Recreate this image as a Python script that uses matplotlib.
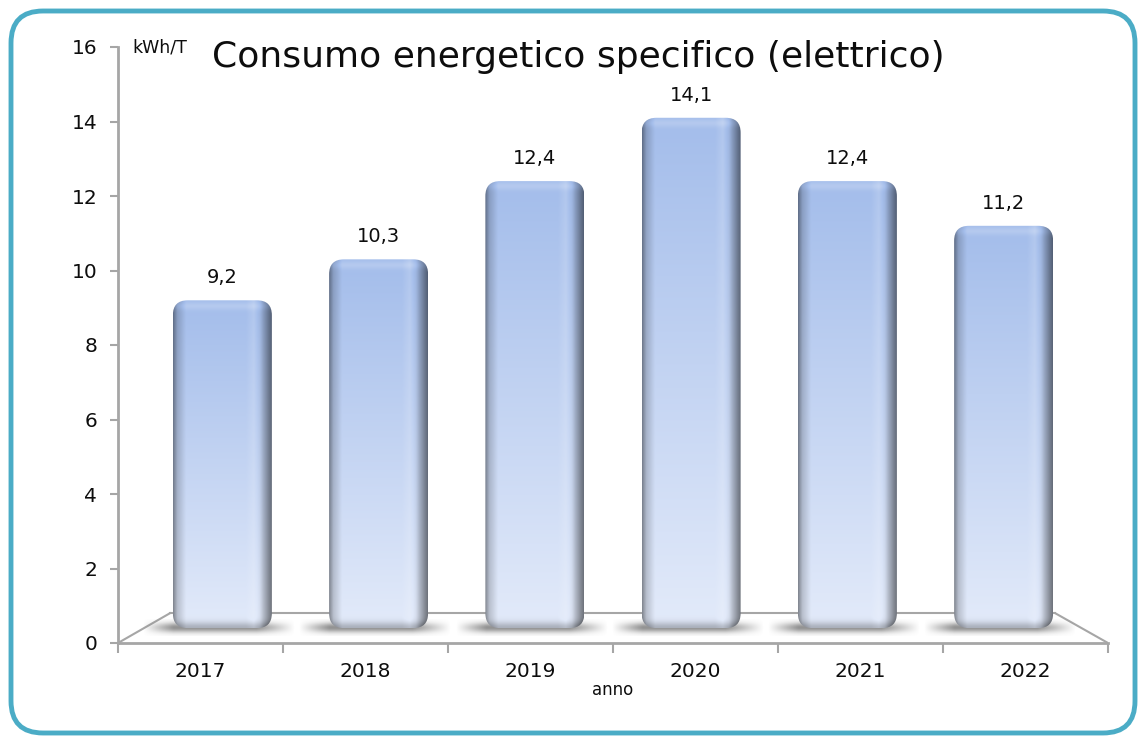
import numpy as np
import matplotlib
matplotlib.use("Agg")
import matplotlib.pyplot as plt
from matplotlib.patches import FancyBboxPatch

# dati
anni = ["2017", "2018", "2019", "2020", "2021", "2022"]
valori = [9.2, 10.3, 12.4, 14.1, 12.4, 11.2]
etichette = ["9,2", "10,3", "12,4", "14,1", "12,4", "11,2"]
y_ticks = [0, 2, 4, 6, 8, 10, 12, 14, 16]

plt.rcParams['font.family'] = ['DejaVu Sans']
nero = "#0D0D0D"

W, H = 1146, 742
fig = plt.figure(figsize=(W / 100, H / 100), dpi=100)

# sfondo con cornice arrotondata (coordinate in pixel)
bg = fig.add_axes([0, 0, 1, 1], zorder=0)
bg.set_xlim(0, W)
bg.set_ylim(H, 0)
bg.axis("off")
cornice = FancyBboxPatch((11, 11), W - 22, H - 20,
                         boxstyle="round,pad=0,rounding_size=32",
                         facecolor="white", edgecolor="#4BACC6", linewidth=3.5)
bg.add_patch(cornice)

ax = fig.add_axes([118 / W, 99 / H, 990 / W, 596 / H], zorder=1)
ax.set_facecolor("none")
ax.set_xlim(-0.5, 5.5)
ax.set_ylim(0, 16)

# pixel per unita
px_x = 990 / 6.0
px_y = 596 / 16.0
aspetto = px_x / px_y

grigio = "#A6A6A6"
# pavimento prospettico
fondo = 0.8
ax.plot([-0.5, -0.185], [0, fondo], color=grigio, lw=1.5, zorder=2)
ax.plot([5.5, 5.18], [0, fondo], color=grigio, lw=1.5, zorder=2)
ax.plot([-0.185, 5.18], [fondo, fondo], color=grigio, lw=1.5, zorder=2)

def colore_barra(alt_px, nx=120):
    ny = int(alt_px)
    u = np.linspace(0, 1, nx)
    yy = np.arange(ny)[:, None] + 0.5  # pixel dal basso
    v = yy / ny
    basso = np.array([0.89, 0.92, 0.98])
    alto = np.array([0.64, 0.74, 0.92])
    base = basso + (alto - basso) * v[..., None] * np.ones((1, nx, 1))
    f = np.interp(u, [0, 0.04, 0.13, 0.74, 0.82, 0.88, 0.94, 1.0],
                  [0.58, 0.82, 1.0, 1.0, 1.05, 0.96, 0.72, 0.50])
    f = f[None, :, None] * np.ones((ny, 1, 1))
    # bordo superiore chiaro e base scura
    dall_alto = ny - yy
    f = f + 0.06 * np.exp(-((dall_alto - 6) / 4) ** 2)[..., None]
    f = f - 0.25 * np.exp(-(yy / 6) ** 2)[..., None]
    img = np.where(f >= 1, base + (1 - base) * (f - 1) * 3, base * f)
    return np.clip(img, 0, 1)

larg = 0.6
base_barra = 0.4
for i, val in enumerate(valori):
    cx = i + (2.5 - i) * 0.053
    x0 = cx - larg / 2
    # ombra sul pavimento
    sx = np.linspace(0, 1, 200)
    sy = np.linspace(-1, 1, 40)[:, None]
    alfa = np.exp(-(sy / 0.6) ** 2) * np.clip(np.minimum(sx / 0.2, (1 - sx) / 0.25), 0, 1)
    ombra = np.zeros((40, 200, 4))
    ombra[..., :3] = 0.5
    ombra[..., 3] = alfa * 0.85
    ax.imshow(ombra, extent=(x0 - 0.18, x0 + larg + 0.14, 0.18, 0.62),
              aspect="auto", origin="lower", zorder=3, interpolation="bilinear")
    patch = FancyBboxPatch((x0, base_barra), larg, val - base_barra,
                           boxstyle="round,pad=0,rounding_size=0.09",
                           mutation_aspect=aspetto,
                           facecolor="none", edgecolor="none")
    ax.add_patch(patch)
    tex = colore_barra((val - base_barra) * px_y)
    im = ax.imshow(tex, extent=(x0, x0 + larg, base_barra, val),
                   aspect="auto", origin="lower", zorder=4, interpolation="bilinear")
    im.set_clip_path(patch)
    ax.text(cx, val + 0.6, etichette[i], ha="center", va="center",
            fontsize=14, color=nero, zorder=5)

ax.set_xlim(-0.5, 5.5)
ax.set_ylim(0, 16)

for s in ["top", "right"]:
    ax.spines[s].set_visible(False)
for s in ["left", "bottom"]:
    ax.spines[s].set_color(grigio)
    ax.spines[s].set_linewidth(2)

ax.set_yticks(y_ticks)
ax.set_yticklabels([str(t) for t in y_ticks])
ax.set_xticks(np.arange(-0.5, 6.0, 1.0))
ax.set_xticklabels([])
ax.set_xticks(np.arange(len(anni)), minor=True)
ax.set_xticklabels(anni, minor=True)
ax.tick_params(axis="y", length=6, width=1.5, color=grigio, labelsize=14.5,
               pad=9, labelcolor=nero)
ax.tick_params(axis="x", which="major", length=7, width=1.5, color=grigio)
ax.tick_params(axis="x", which="minor", length=0, labelsize=14.5, pad=14,
               labelcolor=nero)

fig.text(613 / W, 1 - 690 / H, "anno", ha="center", va="center",
         fontsize=12, color=nero)
fig.text(132 / W, 1 - 47 / H, "kWh/T", ha="left", va="center",
         fontsize=12.5, color=nero)
fig.text(212 / W, 1 - 57 / H, "Consumo energetico specifico (elettrico)",
         ha="left", va="center", fontsize=26, color=nero)

fig.savefig("out.png", dpi=100)
